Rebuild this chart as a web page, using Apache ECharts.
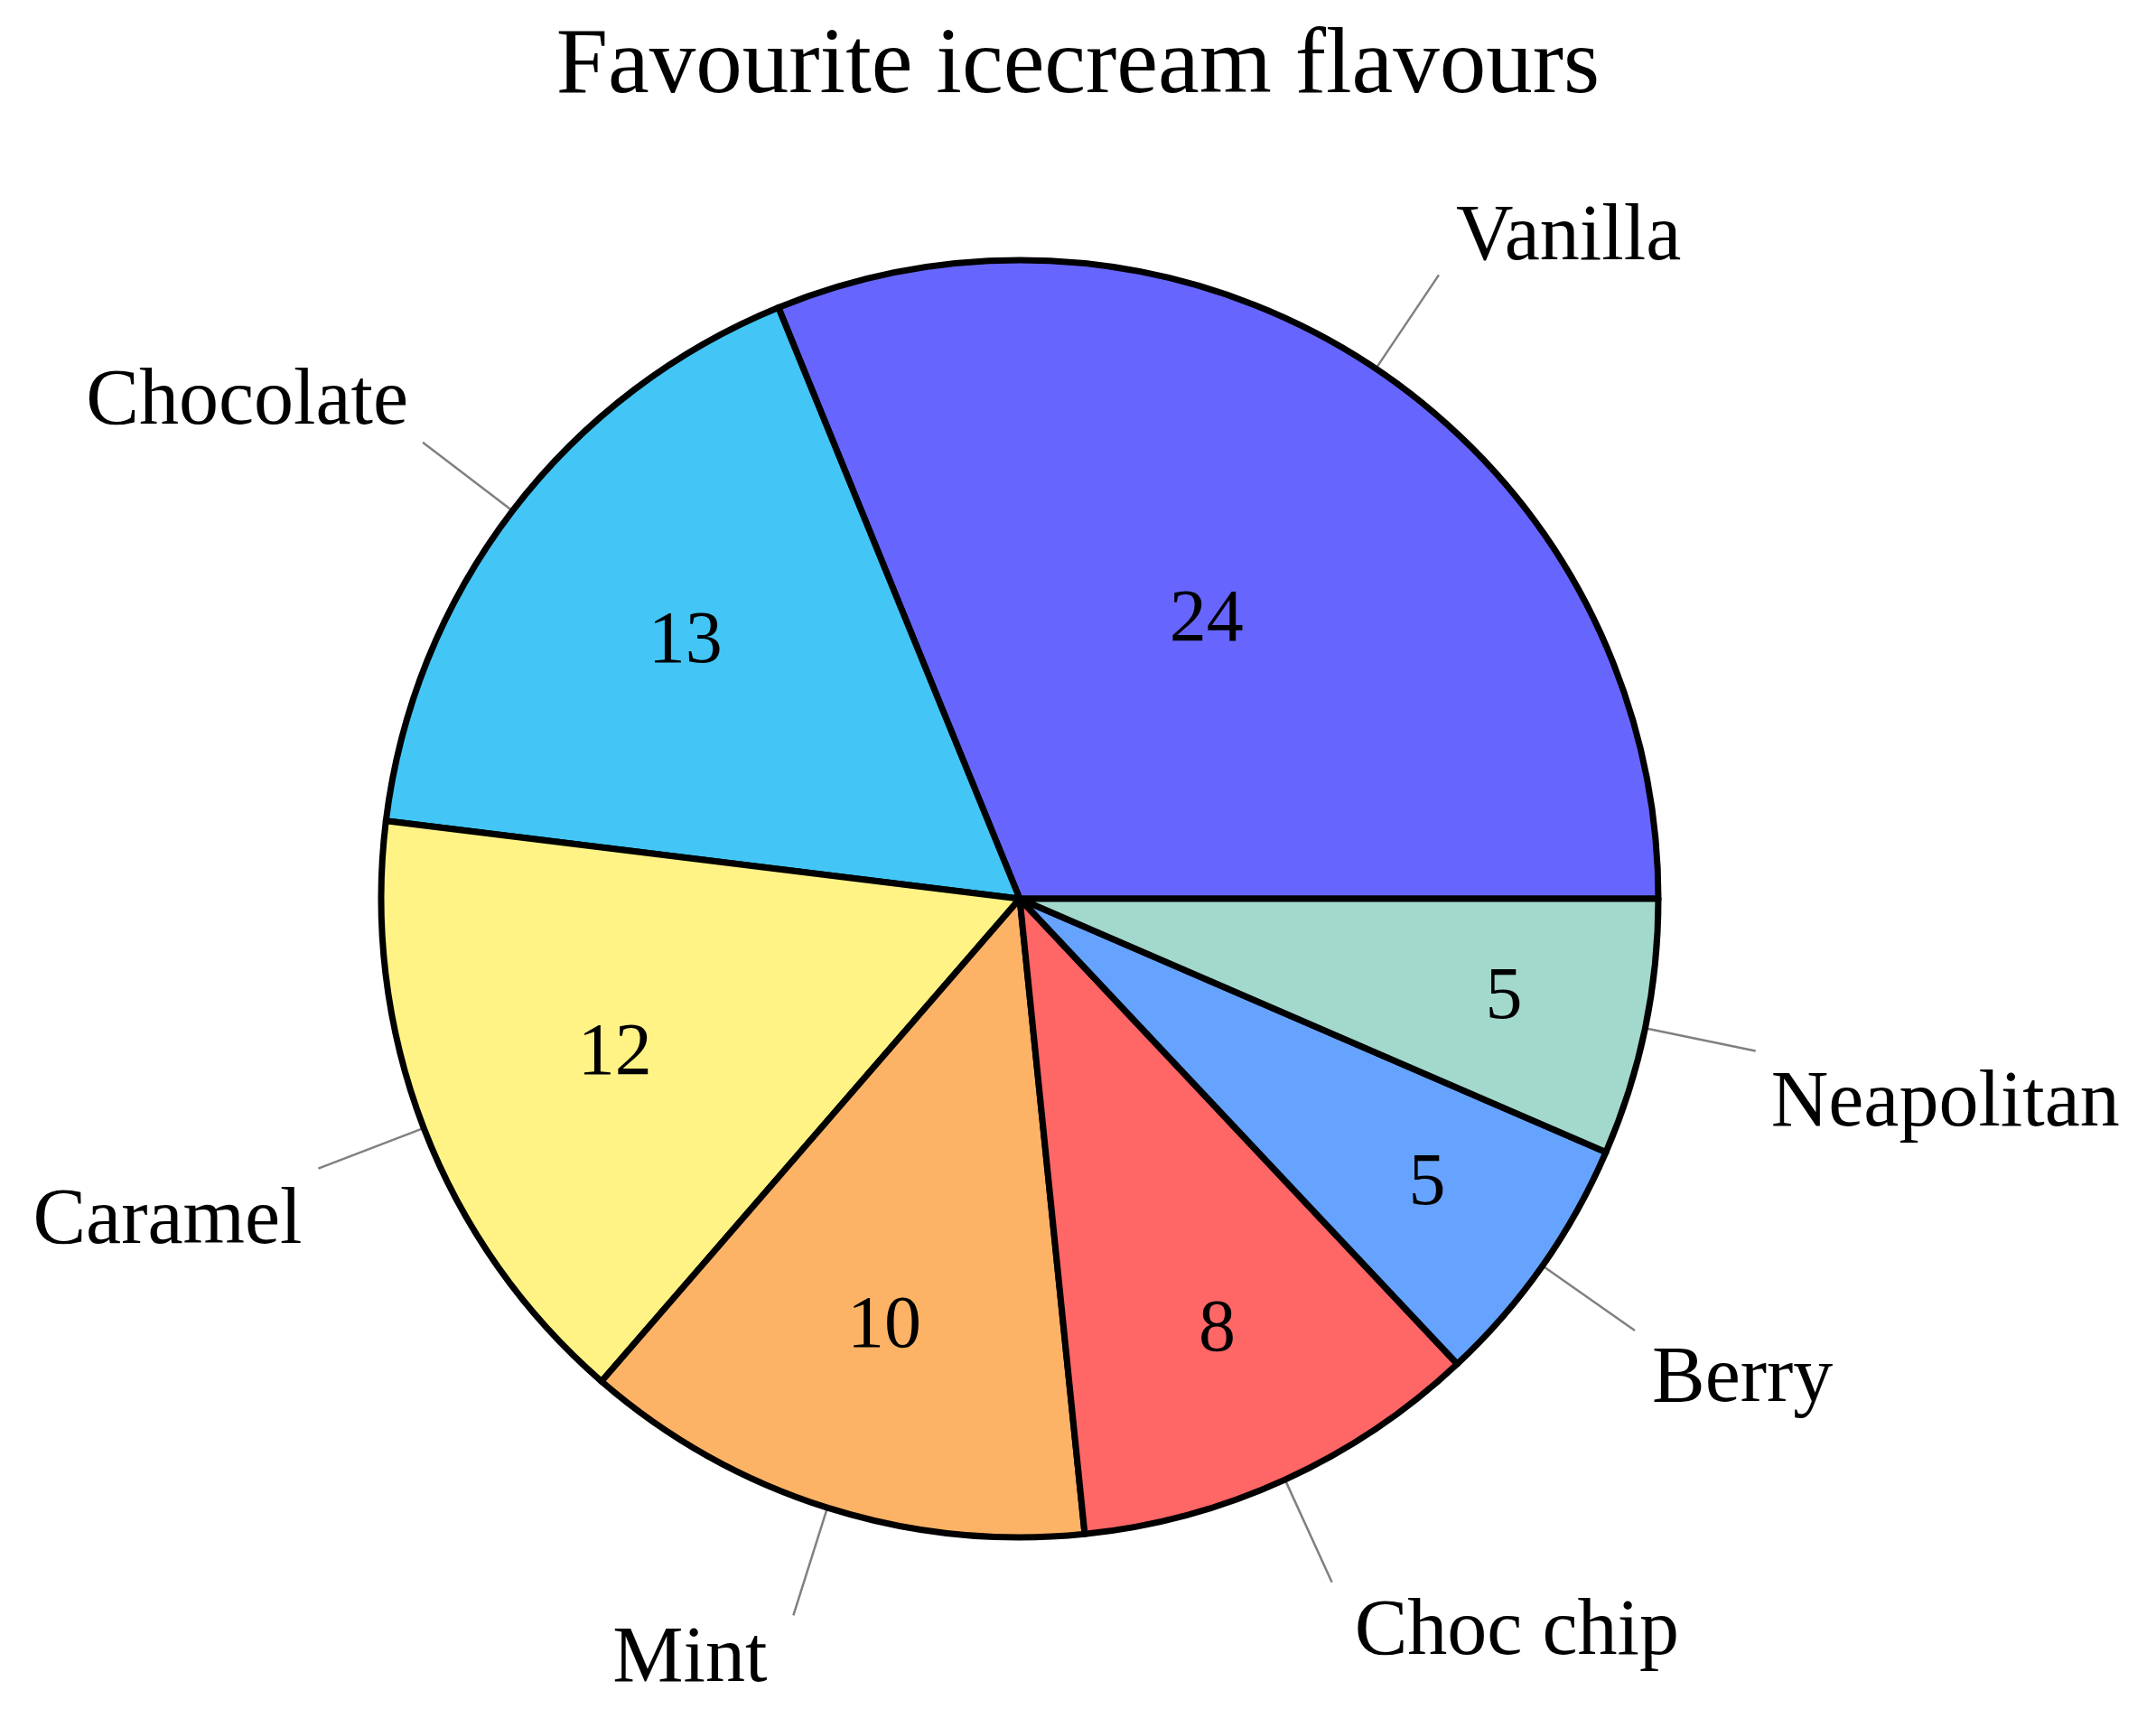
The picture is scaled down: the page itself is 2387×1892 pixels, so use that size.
<!DOCTYPE html>
<html><head><meta charset="utf-8">
<script src="https://cdn.jsdelivr.net/npm/echarts@6/dist/echarts.min.js"></script>
<style>html,body{margin:0;padding:0;background:#fff}#chart{width:2387px;height:1892px}</style>
</head><body><div id="chart"></div>
<script>
const titleText = 'Favourite icecream flavours';
const categories = ['Vanilla','Chocolate','Caramel','Mint','Choc chip','Berry','Neapolitan'];
const values = [24,13,12,10,8,5,5];
const colors = ['#6666ff','#43c6f5','#fff385','#fdb366','#ff6666','#66a3ff','#a3d9cc'];
// radial position (fraction of radius) of each value label
const valueLabelRadius = [0.52,0.655,0.675,0.70,0.74,0.775,0.77];
// small nudges [dx, dy] (px) of the name labels
const nameLabelNudge = [[5,-41],[-2,-44],[-4,59],[-15,50],[11,56],[5,55],[3,59]];

const CENTER = [1129, 995], R = 707, FONT = '"Liberation Serif", serif';
const chart = echarts.init(document.getElementById('chart'));
const base = {
  type: 'pie', center: CENTER, radius: R, startAngle: 0, clockwise: false,
  avoidLabelOverlap: false, silent: true, animation: false,
  data: categories.map((n, i) => ({ name: n, value: values[i], itemStyle: { color: colors[i] } })),
  itemStyle: { borderColor: '#000', borderWidth: 7 },
  label: { show: true, position: 'outside', formatter: '{b}', fontFamily: FONT, fontSize: 88, color: '#000', distanceToLabelLine: 14 },
  labelLine: { show: true, length: 125, length2: 0, smooth: false, lineStyle: { color: '#808080', width: 2.5 } },
  labelLayout: function (p) { const n = nameLabelNudge[p.dataIndex]; return { dx: n[0], dy: n[1] }; },
  emphasis: { disabled: true }
};
const overlays = values.map((v, k) => ({
  type: 'pie', center: CENTER, radius: 2 * valueLabelRadius[k] * R, startAngle: 0, clockwise: false,
  avoidLabelOverlap: false, silent: true, animation: false,
  data: categories.map((n, i) => ({ name: n, value: values[i], label: { show: i === k } })),
  itemStyle: { color: 'rgba(0,0,0,0)', borderWidth: 0 },
  label: { position: 'inside', formatter: '{c}', fontFamily: FONT, fontSize: 82, color: '#000', padding: [9, 0, 0, 0] },
  labelLine: { show: false }, emphasis: { disabled: true }
}));
chart.setOption({
  backgroundColor: '#fff',
  animation: false,
  title: { text: titleText, left: 'center', top: 18, textStyle: { fontFamily: FONT, fontSize: 103, fontWeight: 'normal', color: '#000' } },
  series: [base].concat(overlays)
});
</script></body></html>
